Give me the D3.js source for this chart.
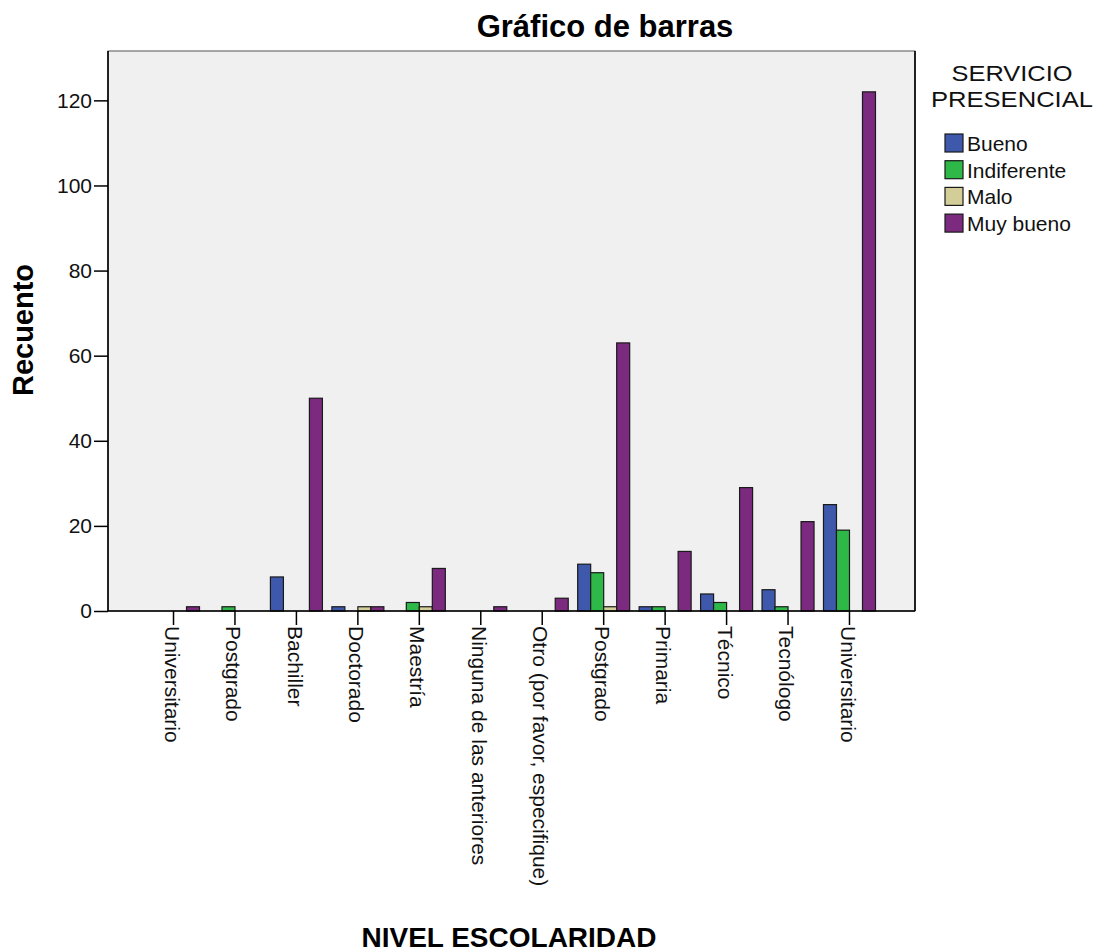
<!DOCTYPE html>
<html>
<head>
<meta charset="utf-8">
<script src="https://cdn.jsdelivr.net/npm/d3@7"></script>
<style>
  html, body { margin: 0; padding: 0; background: #ffffff; }
  svg { display: block; font-family: Arial, "Liberation Sans", Helvetica, sans-serif; }
</style>
</head>
<body>
<svg id="chart" width="1096" height="952"></svg>
<script>
// Education levels (x categories), in the order they are plotted
const categories = [
  "Universitario", "Postgrado", "Bachiller", "Doctorado", "Maestría",
  "Ninguna de las anteriores", "Otro (por favor, especifique)",
  "Postgrado ", "Primaria", "Técnico", "Tecnólogo", "Universitario "
];

// Rating groups of SERVICIO PRESENCIAL
const seriesNames = ["Bueno", "Indiferente", "Malo", "Muy bueno"];
const seriesColors = ["#3E58AC", "#2EB848", "#D3CE97", "#7B2A7F"];

// Counts per education level, one array per rating
const bueno       = [0, 0, 8, 1, 0, 0, 0, 11, 1, 4, 5, 25];
const indiferente = [0, 1, 0, 0, 2, 0, 0, 9, 1, 2, 1, 19];
const malo        = [0, 0, 0, 1, 1, 0, 0, 1, 0, 0, 0, 0];
const muyBueno    = [1, 0, 50, 1, 10, 1, 3, 63, 14, 29, 21, 122];

const yTicks = [0, 20, 40, 60, 80, 100, 120];
const yMax = 131.6;

const legendTitle = ["SERVICIO", "PRESENCIAL"];

const seriesValues = [bueno, indiferente, malo, muyBueno];

const svg = d3.select("#chart");

const plot = { left: 108, right: 915, top: 51, bottom: 611 };

const x = d3.scaleBand()
  .domain(categories)
  .range([plot.left, plot.right])
  .paddingInner(0.1538)
  .paddingOuter(0.643);

const xSub = d3.scaleBand()
  .domain(seriesNames)
  .range([0, x.bandwidth()])
  .padding(0);

const y = d3.scaleLinear()
  .domain([0, yMax])
  .range([plot.bottom, plot.top]);

// Plot background
svg.append("rect")
  .attr("x", plot.left)
  .attr("y", plot.top)
  .attr("width", plot.right - plot.left)
  .attr("height", plot.bottom - plot.top)
  .attr("fill", "#F0F0F0")
  .attr("stroke", "#555")
  .attr("stroke-width", 1);

// Bars
const rows = [];
categories.forEach((c, i) => {
  seriesNames.forEach((s, j) => {
    rows.push({ cat: c, series: s, value: seriesValues[j][i], color: seriesColors[j] });
  });
});

svg.append("g")
  .selectAll("rect")
  .data(rows.filter(d => d.value > 0))
  .join("rect")
  .attr("x", d => x(d.cat) + xSub(d.series))
  .attr("y", d => y(d.value))
  .attr("width", xSub.bandwidth())
  .attr("height", d => y(0) - y(d.value))
  .attr("fill", d => d.color)
  .attr("stroke", "#1a1a1a")
  .attr("stroke-width", 1.2);

// Y axis
const yAxis = svg.append("g")
  .attr("transform", `translate(${plot.left},0)`)
  .call(d3.axisLeft(y).tickValues(yTicks).tickSize(14).tickPadding(2).tickFormat(d3.format("d")));
yAxis.select(".domain").remove();
yAxis.selectAll(".tick line").attr("stroke", "#000").attr("stroke-width", 1.5);
yAxis.selectAll(".tick text")
  .attr("font-size", 21)
  .attr("fill", "#111")
  .attr("font-family", "Arial, 'Liberation Sans', sans-serif");

// X axis
const xAxis = svg.append("g")
  .attr("transform", `translate(0,${plot.bottom})`)
  .call(d3.axisBottom(x).tickSize(14).tickSizeOuter(0).tickFormat(d => d.trim()));
xAxis.select(".domain").remove();
xAxis.selectAll(".tick line").attr("stroke", "#000").attr("stroke-width", 1.5);
xAxis.selectAll(".tick text")
  .attr("font-size", 21)
  .attr("fill", "#111")
  .attr("font-family", "Arial, 'Liberation Sans', sans-serif")
  .attr("text-anchor", "start")
  .attr("transform", "rotate(90)")
  .attr("x", 15)
  .attr("y", 0)
  .attr("dy", "0.42em");

// Axis lines
svg.append("line")
  .attr("x1", plot.left).attr("x2", plot.left)
  .attr("y1", plot.top).attr("y2", plot.bottom)
  .attr("stroke", "#000").attr("stroke-width", 1.6);
svg.append("line")
  .attr("x1", plot.left).attr("x2", plot.right)
  .attr("y1", plot.bottom).attr("y2", plot.bottom)
  .attr("stroke", "#000").attr("stroke-width", 1.6);
svg.append("line")
  .attr("x1", plot.right).attr("x2", plot.right)
  .attr("y1", plot.top).attr("y2", plot.bottom)
  .attr("stroke", "#000").attr("stroke-width", 1.6);

// Title
svg.append("text")
  .attr("x", 605)
  .attr("y", 37)
  .attr("text-anchor", "middle")
  .attr("font-size", 31)
  .attr("font-weight", "bold")
  .attr("fill", "#000")
  .text("Gráfico de barras");

// Axis titles
svg.append("text")
  .attr("transform", "translate(33,330) rotate(-90)")
  .attr("text-anchor", "middle")
  .attr("font-size", 29)
  .attr("font-weight", "bold")
  .attr("fill", "#000")
  .text("Recuento");

svg.append("text")
  .attr("x", 509)
  .attr("y", 947)
  .attr("text-anchor", "middle")
  .attr("font-size", 28)
  .attr("font-weight", "bold")
  .attr("fill", "#000")
  .text("NIVEL ESCOLARIDAD");

// Legend title, two lines, slightly widened glyphs
const legend = svg.append("g");
legend.selectAll("text.ltitle")
  .data(legendTitle)
  .join("text")
  .attr("class", "ltitle")
  .attr("x", 1012)
  .attr("y", (d, i) => 81 + i * 26)
  .attr("text-anchor", "middle")
  .attr("font-size", 22.5)
  .attr("fill", "#111")
  .attr("textLength", (d, i) => i === 0 ? 121 : 162)
  .attr("lengthAdjust", "spacingAndGlyphs")
  .text(d => d);

const items = legend.selectAll("g.item")
  .data(seriesNames)
  .join("g")
  .attr("class", "item")
  .attr("transform", (d, i) => `translate(945,${134 + i * 26.7})`);
items.append("rect")
  .attr("width", 18).attr("height", 18)
  .attr("fill", (d, i) => seriesColors[i])
  .attr("stroke", "#1a1a1a")
  .attr("stroke-width", 1.2);
items.append("text")
  .attr("x", 22).attr("y", 17)
  .attr("font-size", 21)
  .attr("fill", "#111")
  .text(d => d);
</script>
</body>
</html>
